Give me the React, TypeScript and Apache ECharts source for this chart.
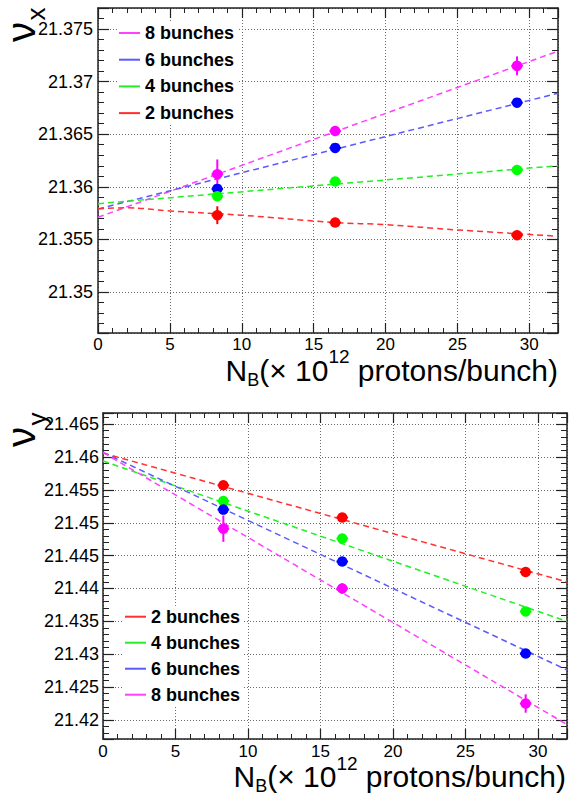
import React, { useEffect, useRef } from 'react';
import * as echarts from 'echarts';

const FONT = "'Liberation Sans', Arial, Helvetica, sans-serif";

// Series names, marker colours and fit-line colours
const bunchNames = ['2 bunches', '4 bunches', '6 bunches', '8 bunches'];
const markerColors = ['#ff0000', '#00ff00', '#0000ff', '#ff00ff'];
const fitColors = ['#ff3030', '#22f022', '#5a5aff', '#ff40ff'];

// Bunch intensity N_B (x 10^12 protons/bunch)
const nbValues = [8.3, 16.5, 29.15];
const nbErrors = [0.4, 0.4, 0.4];
const nbRange = [0, 32];

// Top panel: horizontal tune nu_x
const nuXRange = [21.3461, 21.377];
const nuX2 = [21.3573, 21.3566, 21.3554];
const nuX4 = [21.3591, 21.3605, 21.3616];
const nuX6 = [21.3598, 21.3637, 21.368];
const nuX8 = [21.3612, 21.3653, 21.3715];
const errNuX2 = [0.00085, 0.0003, 0.0003];
const errNuX4 = [0.0004, 0.0003, 0.0004];
const errNuX6 = [0.0004, 0.0003, 0.0004];
const errNuX8 = [0.0014, 0.0004, 0.0009];
// fit curves
const fitNb = [0, 32];
const fitNbCurve = [0, 2, 5, 10, 16.5, 20, 25, 32];
const fitNuX2 = [21.3579, 21.358, 21.3577, 21.3573, 21.3566, 21.3564, 21.3559, 21.3553];
const fitNuX4 = [21.3584, 21.362];
const fitNuX6 = [21.3579, 21.3689];
const fitNuX8 = [21.3571, 21.3729];

// Bottom panel: vertical tune nu_y
const nuYRange = [21.4171, 21.4667];
const nuY2 = [21.4557, 21.4508, 21.4425];
const nuY4 = [21.4533, 21.4476, 21.4365];
const nuY6 = [21.452, 21.4441, 21.4301];
const nuY8 = [21.4491, 21.44, 21.4225];
const errNuY2 = [0.0006, 0.0005, 0.0005];
const errNuY4 = [0.0006, 0.0005, 0.0006];
const errNuY6 = [0.0007, 0.0005, 0.0006];
const errNuY8 = [0.002, 0.0008, 0.0014];
const fitNuY2 = [21.4606, 21.441];
const fitNuY4 = [21.4594, 21.435];
const fitNuY6 = [21.4607, 21.4276];
const fitNuY8 = [21.4607, 21.4193];

const FRAME = '#222';

function xAxisDef(grid: number, pos: 'bottom' | 'top', labels: boolean, margin: number) {
  return {
    type: 'value', gridIndex: grid, position: pos, min: nbRange[0], max: nbRange[1], splitNumber: 6,
    axisLine: { show: true, onZero: false, lineStyle: { color: FRAME, width: 1.5 } },
    axisTick: { show: true, inside: true, length: 10, lineStyle: { color: FRAME, width: 1.2 } },
    minorTick: { show: true, splitNumber: 5, length: 5, lineStyle: { color: FRAME, width: 1 } },
    axisLabel: labels
      ? { show: true, margin, fontSize: 17, fontFamily: FONT, color: '#000', showMaxLabel: false, showMinLabel: true }
      : { show: false },
    splitLine: labels ? { show: true, lineStyle: { color: '#6a6a6a', type: [1, 2], width: 1 } } : { show: false },
  };
}

function yAxisDef(grid: number, pos: 'left' | 'right', range: number[], split: number, labels: boolean, margin: number) {
  return {
    type: 'value', gridIndex: grid, position: pos, min: range[0], max: range[1], splitNumber: split,
    axisLine: { show: true, onZero: false, lineStyle: { color: FRAME, width: 1.5 } },
    axisTick: { show: true, inside: true, length: 11, lineStyle: { color: FRAME, width: 1.2 } },
    minorTick: { show: true, splitNumber: 5, length: 6, lineStyle: { color: FRAME, width: 1 } },
    axisLabel: labels
      ? { show: true, margin, fontSize: 18, fontFamily: FONT, color: '#000', showMaxLabel: false, showMinLabel: false }
      : { show: false },
    splitLine: labels ? { show: true, lineStyle: { color: '#6a6a6a', type: [1, 2], width: 1 } } : { show: false },
  };
}

function panelSeries(
  grid: number, xAxisIndex: number, yAxisIndex: number, order: number[],
  ys: number[][], errs: number[][], fitXs: number[][], fitYs: number[][], smooth: boolean[],
) {
  const out: any[] = [];
  order.forEach((k) => {
    out.push({
      type: 'line', name: bunchNames[k], xAxisIndex, yAxisIndex, color: fitColors[k],
      data: fitXs[k].map((x, i) => [x, fitYs[k][i]]), showSymbol: false, symbol: 'none',
      smooth: smooth[k] ? 0.4 : false, silent: true, z: 2,
      lineStyle: { color: fitColors[k], width: 1.5, type: [6, 4] },
    });
  });
  order.forEach((k) => {
    const col = markerColors[k];
    out.push({
      type: 'custom', name: bunchNames[k] + ' err ' + grid, xAxisIndex, yAxisIndex, z: 3, silent: true,
      data: nbValues.map((x, i) => [x, ys[k][i], errs[k][i], nbErrors[i]]),
      encode: { x: 0, y: 1 },
      renderItem: (_p: any, api: any) => {
        const x = api.value(0), y = api.value(1), ey = api.value(2), ex = api.value(3);
        const a = api.coord([x, y + ey]), b = api.coord([x, y - ey]);
        const c = api.coord([x - ex, y]), d = api.coord([x + ex, y]);
        const st = { stroke: col, lineWidth: 2 };
        return {
          type: 'group', children: [
            { type: 'line', shape: { x1: a[0], y1: a[1], x2: b[0], y2: b[1] }, style: st },
            { type: 'line', shape: { x1: c[0], y1: c[1], x2: d[0], y2: d[1] }, style: st },
          ],
        };
      },
    });
    out.push({
      type: 'scatter', name: bunchNames[k] + ' data ' + grid, xAxisIndex, yAxisIndex, z: 4, silent: true,
      symbol: 'circle', symbolSize: 10.5, itemStyle: { color: col, opacity: 1 },
      data: nbValues.map((x, i) => [x, ys[k][i]]),
    });
  });
  return out;
}

function xTitle(rightX: number, cy: number, supDy: number) {
  const ctx = document.createElement('canvas').getContext('2d') as CanvasRenderingContext2D;
  const segs = [
    { t: 'N', s: 30, dy: 0, lh: 22 },
    { t: 'B', s: 18, dy: 10, lh: 13 },
    { t: '(\u00d7 10', s: 30, dy: 0, lh: 22 },
    { t: '12', s: 19, dy: supDy, lh: 11 },
    { t: ' protons/bunch)', s: 30, dy: 0, lh: 22 },
  ];
  const widths = segs.map((sg) => { ctx.font = `${sg.s}px ${FONT}`; return ctx.measureText(sg.t).width; });
  let x = rightX - widths.reduce((a, b) => a + b, 0);
  return segs.map((sg, i) => {
    const el = {
      type: 'text', x, y: cy + sg.dy, silent: true,
      style: { text: sg.t, fontSize: sg.s, lineHeight: sg.lh, fontFamily: FONT, fill: '#000', align: 'left', verticalAlign: 'middle' },
    };
    x += widths[i];
    return el;
  });
}

function yTitle(nuX: number, nuY: number, sub: string, subX: number, subY: number) {
  return [
    { type: 'text', x: nuX, y: nuY, rotation: Math.PI / 2, silent: true,
      style: { text: '\u03bd', fontSize: 40, lineHeight: 24, fontFamily: FONT, fill: '#000', align: 'center', verticalAlign: 'middle' } },
    { type: 'text', x: subX, y: subY, rotation: Math.PI / 2, silent: true,
      style: { text: sub, fontSize: 26, lineHeight: 16, fontFamily: FONT, fill: '#000', align: 'center', verticalAlign: 'middle' } },
  ];
}

export default function App() {
  const ref = useRef<HTMLDivElement>(null);
  useEffect(() => {
    if (!ref.current) return;
    const chart = echarts.init(ref.current, undefined, { renderer: 'svg' });
    const legendText = { fontSize: 18, fontWeight: 'bold', color: '#000', fontFamily: FONT, lineHeight: 18 };
    const option: any = {
      animation: false,
      backgroundColor: '#fff',
      grid: [
        { left: 98, top: 8, width: 460, height: 325 },
        { left: 103, top: 413, width: 464, height: 326 },
      ],
      xAxis: [
        xAxisDef(0, 'bottom', true, 3),
        xAxisDef(0, 'top', false, 0),
        xAxisDef(1, 'bottom', true, 4),
        xAxisDef(1, 'top', false, 0),
      ],
      yAxis: [
        yAxisDef(0, 'left', nuXRange, 6, true, 5),
        yAxisDef(0, 'right', nuXRange, 6, false, 0),
        yAxisDef(1, 'left', nuYRange, 10, true, 4),
        yAxisDef(1, 'right', nuYRange, 10, false, 0),
      ],
      legend: [
        {
          data: ['8 bunches', '6 bunches', '4 bunches', '2 bunches'], orient: 'vertical',
          left: 117, top: 22, padding: [2, 4, 2, 2], itemWidth: 21, itemHeight: 2, icon: 'rect',
          itemGap: 8.7, textStyle: legendText, backgroundColor: '#fff', selectedMode: false, z: 5,
        },
        {
          data: ['2 bunches', '4 bunches', '6 bunches', '8 bunches'], orient: 'vertical',
          left: 123, top: 605.7, padding: [2, 4, 2, 2], itemWidth: 21, itemHeight: 2, icon: 'rect',
          itemGap: 8, textStyle: legendText, backgroundColor: '#fff', selectedMode: false, z: 5,
        },
      ],
      graphic: [
        ...yTitle(21, 32, 'x', 36, 14),
        ...yTitle(21, 437, 'y', 37, 419),
        ...xTitle(558, 370, -13.5),
        ...xTitle(566, 776, -12.5),
      ],
      series: [
        ...panelSeries(0, 0, 0, [3, 2, 1, 0],
          [nuX2, nuX4, nuX6, nuX8], [errNuX2, errNuX4, errNuX6, errNuX8],
          [fitNbCurve, fitNb, fitNb, fitNb], [fitNuX2, fitNuX4, fitNuX6, fitNuX8],
          [true, false, false, false]),
        ...panelSeries(1, 2, 2, [0, 1, 2, 3],
          [nuY2, nuY4, nuY6, nuY8], [errNuY2, errNuY4, errNuY6, errNuY8],
          [fitNb, fitNb, fitNb, fitNb], [fitNuY2, fitNuY4, fitNuY6, fitNuY8],
          [false, false, false, false]),
      ],
    };
    chart.setOption(option);
    return () => chart.dispose();
  }, []);
  return (
    <div
      ref={ref}
      style={{ position: 'fixed', left: 0, top: 0, width: 569, height: 796, background: '#fff' }}
    />
  );
}
